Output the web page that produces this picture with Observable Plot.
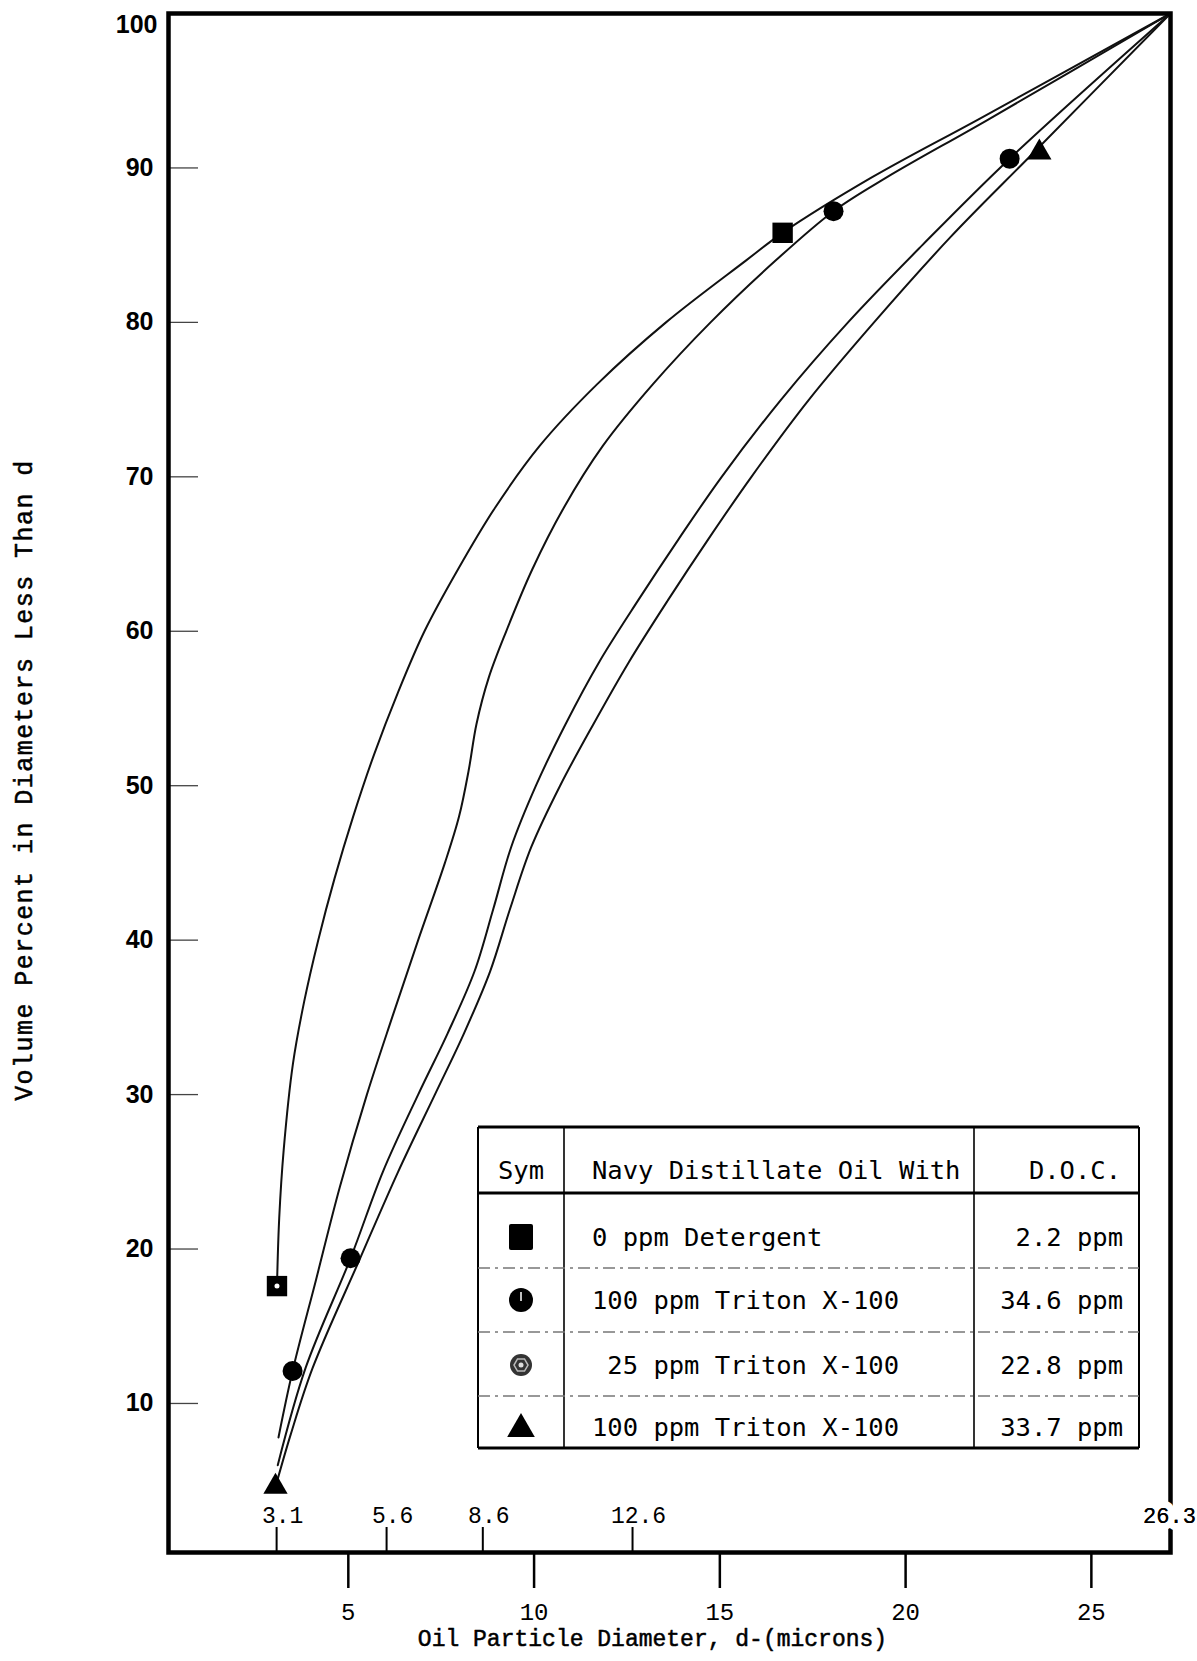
<!DOCTYPE html>
<html><head><meta charset="utf-8">
<script src="https://cdn.jsdelivr.net/npm/d3@7"></script>
<script src="https://cdn.jsdelivr.net/npm/@observablehq/plot@0.6"></script>
<style>
html,body{margin:0;padding:0;background:#fff;}
#wrap{position:relative;width:1197px;height:1661px;overflow:hidden;background:#fff;}
#wrap svg{display:block;}
</style></head><body><div id="wrap"></div>
<script>
// ---- data ----
const seriesNames = ["0 ppm Detergent", "100 ppm Triton X-100 (34.6 ppm)", "25 ppm Triton X-100", "100 ppm Triton X-100 (33.7 ppm)"];

const squareX = [3.08, 3.14, 3.26, 3.51, 3.81, 4.19, 4.63, 5.13, 5.69, 6.33, 7.05, 7.95, 8.95, 10.15, 11.7, 13.55, 15.7, 16.69, 19.1, 22.0, 27.13];
const squareY = [17.6, 22, 26.4, 32, 36, 40, 44, 48, 52, 56, 60, 64, 68, 72, 76, 80, 84, 85.8, 89.4, 93.2, 100];

const circleX = [3.12, 3.5, 4.13, 4.77, 5.5, 6.18, 6.88, 7.6, 7.98, 8.24, 8.45, 8.78, 9.25, 9.95, 10.8, 11.85, 13.2, 14.75, 16.5, 18.06, 19.5, 22.2, 27.13];
const circleY = [7.8, 12.1, 18, 24, 30, 35, 40, 45, 48, 51, 54, 57, 60, 64, 68, 72, 76, 80, 84, 87.2, 89.4, 93.1, 100];

const hexX = [3.1, 3.85, 5.06, 5.93, 6.88, 7.68, 8.4, 8.9, 9.38, 10.05, 10.85, 11.75, 12.8, 13.9, 15.05, 16.65, 18.45, 20.45, 22.8, 27.13];
const hexY = [6.0, 12.3, 19.4, 25, 30, 34, 38, 42, 46, 50, 54, 58, 62, 66, 70, 75, 80, 85, 90.6, 100];

const triangleX = [3.04, 3.45, 4.04, 5.3, 6.34, 7.33, 8.12, 8.82, 9.35, 9.92, 10.7, 11.6, 12.55, 13.6, 14.7, 15.85, 17.4, 19.15, 21.2, 23.45, 27.13];
const triangleY = [4.6, 8, 12.3, 19.3, 25, 30, 34, 38, 42, 46, 50, 54, 58, 62, 66, 70, 75, 80, 85.5, 91, 100];

// plotted symbols (two per curve)
const markerSeries = [0, 0, 1, 1, 2, 2, 3, 3];
const markerX = [3.08, 16.69, 3.5, 18.06, 5.06, 22.8, 3.04, 23.6];
const markerY = [17.6, 85.8, 12.1, 87.2, 19.4, 90.6, 4.6, 91.0];

// axes
const xTicks = [5, 10, 15, 20, 25];
const yTicks = [10, 20, 30, 40, 50, 60, 70, 80, 90];
const yTopTick = [100];
const secTickPos = [3.07, 6.03, 8.62, 12.65, 27.13];
const secTickLabels = ["3.1", "5.6", "8.6", "12.6", "26.3"];

// legend table
const legendHead = ["Sym", "Navy Distillate Oil With", "D.O.C."];
const legendDesc = ["0 ppm Detergent", "100 ppm Triton X-100", " 25 ppm Triton X-100", "100 ppm Triton X-100"];
const legendDoc = ["2.2 ppm", "34.6 ppm", "22.8 ppm", "33.7 ppm"];

const xTitle = "Oil Particle Diameter, d-(microns)";
const yTitle = "Volume Percent in Diameters Less Than d";

// ---- build tables ----
const curves = [[squareX, squareY], [circleX, circleY], [hexX, hexY], [triangleX, triangleY]];
const lineData = curves.flatMap(([xs, ys], s) => xs.map((x, i) => ({series: seriesNames[s], x, y: ys[i]})));
const markers = markerX.map((x, i) => ({s: markerSeries[i], first: i % 2 === 0, x, y: markerY[i]}));
const secTicks = secTickPos.map((p, i) => ({p, label: secTickLabels[i], last: i === secTickPos.length - 1}));

const mono = "Liberation Mono, DejaVu Sans Mono, monospace";
const gothic = "DejaVu Sans Mono, Liberation Mono, monospace";

const plot = Plot.plot({
  width: 1197,
  height: 1661,
  marginLeft: 168,
  marginRight: 27,
  marginTop: 13,
  marginBottom: 109,
  x: {domain: [0.16, 27.13], axis: null},
  y: {domain: [0.35, 100], axis: null},
  style: {background: "#fff", color: "#000"},
  marks: [
    // y ticks (inward) and labels
    Plot.axisY({ticks: yTicks, tickSize: -30, tickFormat: () => "", label: null, stroke: "#444", strokeWidth: 1.3}),
    Plot.axisY({ticks: yTicks, tickSize: 0, tickPadding: 15, label: null, fontSize: 25, fontWeight: "bold", fontFamily: "Liberation Sans, Arial, sans-serif", fill: "#000"}),
    Plot.text(yTopTick, {y: d => d, text: d => String(d), frameAnchor: "left", dx: -11, dy: 11, textAnchor: "end", fontSize: 25, fontWeight: "bold", fontFamily: "Liberation Sans, Arial, sans-serif", fill: "#000"}),
    // x ticks (outward) and labels
    Plot.axisX({ticks: xTicks, tickSize: 36, tickPadding: 14, label: null, strokeWidth: 2.5, fontSize: 24, fontFamily: mono, fill: "#000", stroke: "#000"}),
    // secondary scale ticks (inward) and labels
    Plot.axisX({ticks: secTickPos, tickSize: -25, tickFormat: () => "", label: null, strokeWidth: 2, stroke: "#000"}),
    Plot.text(secTicks.filter(d => !d.last), {x: "p", text: "label", frameAnchor: "bottom", dy: -30, dx: 6, fontSize: 23, fontFamily: mono, fill: "#000"}),
    // titles
    Plot.text([xTitle], {text: d => d, frameAnchor: "bottom", dy: 93, dx: -17, textAnchor: "middle", fontSize: 23, fontFamily: mono, fill: "#000", stroke: "#000", strokeWidth: 0.5}),
    Plot.text([yTitle], {text: d => d, frameAnchor: "left", dx: -145, dy: -3, textAnchor: "middle", rotate: -90, fontSize: 25, fontFamily: mono, fill: "#000", stroke: "#000", strokeWidth: 0.5}),
    // curves
    Plot.line(lineData, {x: "x", y: "y", z: "series", curve: "catmull-rom", stroke: "#111", strokeWidth: 2}),
    // markers
    Plot.dot(markers.filter(d => d.s === 0), {x: "x", y: "y", symbol: "square", r: 11.5, fill: "#000", stroke: "none"}),
    Plot.dot(markers.filter(d => d.s === 0 && d.first), {x: "x", y: "y", r: 2.5, fill: "#fff", stroke: "none"}),
    Plot.dot(markers.filter(d => d.s === 1 || d.s === 2), {x: "x", y: "y", symbol: "circle", r: 10, fill: "#000", stroke: "none"}),
    Plot.dot(markers.filter(d => d.s === 3), {x: "x", y: "y", symbol: "triangle", r: 9, fill: "#000", stroke: "none"}),
    Plot.frame({stroke: "#000", strokeWidth: 4.5}),
    // corner label sits over (and breaks) the right frame line, as in the original
    Plot.text(secTicks.filter(d => d.last), {x: "p", text: "label", frameAnchor: "bottom", dy: -30, dx: -1, fontSize: 22, fontFamily: mono, fill: "#000", stroke: "#fff", strokeWidth: 14, strokeLinejoin: "round"}),
    Plot.text(secTicks.filter(d => d.last), {x: "p", text: "label", frameAnchor: "bottom", dy: -30, dx: -1, fontSize: 22, fontFamily: mono, fill: "#000"})
  ]
});
document.getElementById("wrap").appendChild(plot);

// stretch the vertical title to the reference length
d3.select(plot).selectAll("text").filter(function() { return this.textContent === yTitle; })
  .style("letter-spacing", "1.45px");

// ---- legend table overlay ----
const lg = d3.select("#wrap").append("svg")
  .attr("width", 1197).attr("height", 1661)
  .style("position", "absolute").style("left", "0px").style("top", "0px")
  .style("pointer-events", "none");

const T = {l: 478, c1: 564, c2: 974, r: 1139, top: 1127, head: 1193, bottom: 1448};
const rowCenters = [1237, 1300, 1365, 1427];
const rowDividers = [1268, 1332, 1396];
const headY = 1170;

lg.append("rect").attr("x", T.l).attr("y", T.top).attr("width", T.r - T.l).attr("height", T.bottom - T.top).attr("fill", "#fff");
const ln = (x1, y1, x2, y2, w, c, dash) => {
  const e = lg.append("line").attr("x1", x1).attr("y1", y1).attr("x2", x2).attr("y2", y2)
    .attr("stroke", c || "#000").attr("stroke-width", w);
  if (dash) e.attr("stroke-dasharray", dash);
};
ln(T.l, T.top, T.r, T.top, 3);
ln(T.l, T.bottom, T.r, T.bottom, 3);
ln(T.l, T.head, T.r, T.head, 3);
ln(T.l, T.top, T.l, T.bottom, 2);
ln(T.r, T.top, T.r, T.bottom, 2);
ln(T.c1, T.top, T.c1, T.bottom, 1.6);
ln(T.c2, T.top, T.c2, T.bottom, 1.6);
rowDividers.forEach(y => ln(T.l, y, T.r, y, 1.5, "#777", "12 5 3 5"));

const txt = (s, x, y, anchor) => lg.append("text").attr("x", x).attr("y", y)
  .attr("text-anchor", anchor).attr("dominant-baseline", "central")
  .attr("font-family", gothic).attr("font-size", 25.5).attr("fill", "#000")
  .attr("xml:space", "preserve").style("white-space", "pre").text(s);

txt(legendHead[0], (T.l + T.c1) / 2, headY, "middle");
txt(legendHead[1], 592, headY, "start");
txt(legendHead[2], 1121, headY, "end");
legendDesc.forEach((s, i) => txt(s, 592, rowCenters[i], "start"));
legendDoc.forEach((s, i) => txt(s, 1123, rowCenters[i], "end"));

const sx = (T.l + T.c1) / 2;
// square
lg.append("rect").attr("x", sx - 12).attr("y", rowCenters[0] - 13).attr("width", 24).attr("height", 26).attr("rx", 2).attr("fill", "#000");
// filled circle with mark
lg.append("circle").attr("cx", sx).attr("cy", rowCenters[1]).attr("r", 12).attr("fill", "#000");
lg.append("line").attr("x1", sx).attr("y1", rowCenters[1] - 8).attr("x2", sx).attr("y2", rowCenters[1] + 1).attr("stroke", "#fff").attr("stroke-width", 1.5);
// patterned circle (25 ppm)
lg.append("circle").attr("cx", sx).attr("cy", rowCenters[2]).attr("r", 11).attr("fill", "#333");
const hex = d3.range(6).map(k => [sx + 7 * Math.cos(Math.PI / 3 * k), rowCenters[2] + 7 * Math.sin(Math.PI / 3 * k)]);
lg.append("polygon").attr("points", hex.map(p => p.join(",")).join(" ")).attr("fill", "none").attr("stroke", "#bbb").attr("stroke-width", 1.5);
lg.append("circle").attr("cx", sx).attr("cy", rowCenters[2]).attr("r", 2.5).attr("fill", "#ddd");
// triangle
lg.append("path").attr("d", d3.symbol(d3.symbolTriangle, 330)()).attr("transform", `translate(${sx},${rowCenters[3] + 2})`).attr("fill", "#000");
</script>
</body></html>
